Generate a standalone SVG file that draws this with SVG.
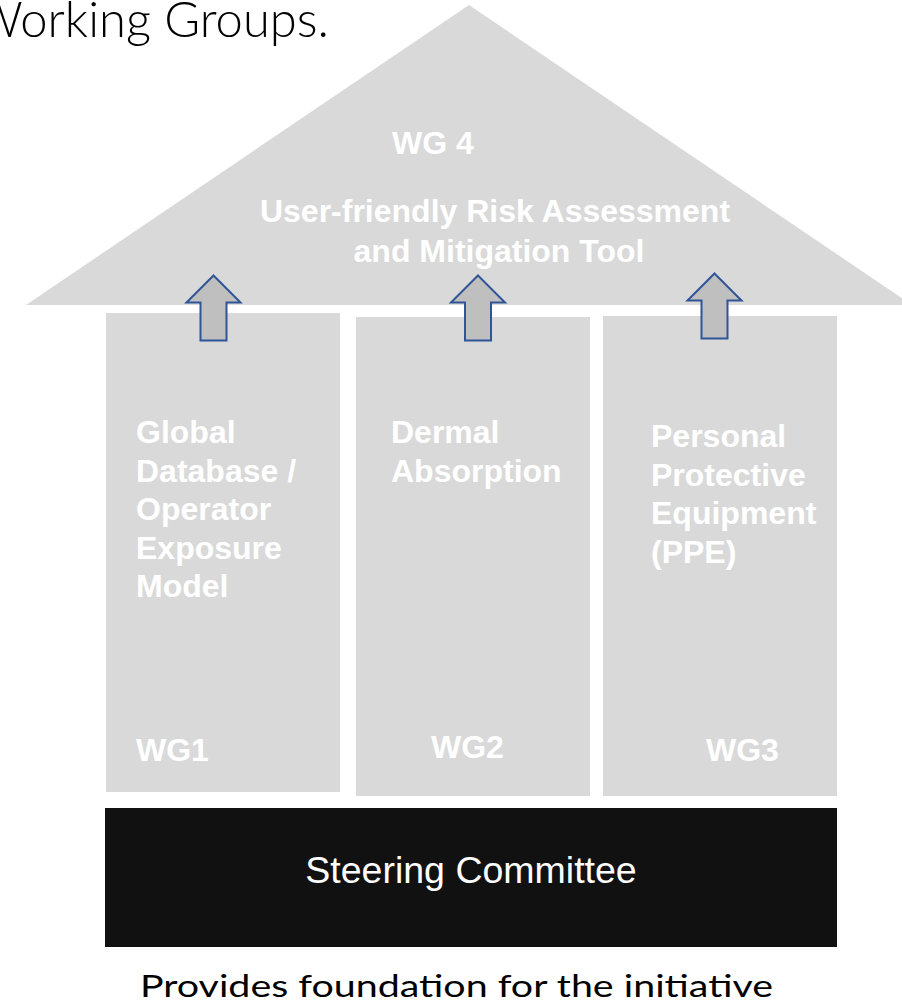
<svg xmlns="http://www.w3.org/2000/svg" width="902" height="1005" viewBox="0 0 902 1005">
<style>
.shape{fill:#d9d9d9}
.wt{fill:#ffffff;font-family:"Liberation Sans",Arial,sans-serif;font-weight:bold;font-size:32px}
.cap{fill:#000000;font-family:Lato,"Open Sans",sans-serif}
.arrow{fill:#bfbfbf;stroke:#2f5597;stroke-width:2;stroke-linejoin:miter}
</style>
<defs>
<path id="up" d="M0,0 L27,27 L13,27 L13,65 L-13,65 L-13,27 L-27,27 Z"/>
</defs>
<rect width="902" height="1005" fill="#ffffff"/>
<text class="cap" x="-27" y="37" font-size="49" font-weight="300" textLength="356" lengthAdjust="spacingAndGlyphs">Working Groups.</text>
<g id="wg4">
<polygon class="shape" points="26,305 469,5 912,305"/>
<text class="wt" x="392" y="154">WG 4</text>
<text class="wt" x="495" y="222" text-anchor="middle">User-friendly Risk Assessment</text>
<text class="wt" x="499" y="262" text-anchor="middle">and Mitigation Tool</text>
</g>
<g id="wg1">
<rect class="shape" x="106" y="313" width="234" height="479"/>
<text class="wt" x="136" y="443">Global</text>
<text class="wt" x="136" y="481.5">Database /</text>
<text class="wt" x="136" y="520">Operator</text>
<text class="wt" x="136" y="558.5">Exposure</text>
<text class="wt" x="136" y="597">Model</text>
<text class="wt" x="136" y="761">WG1</text>
</g>
<g id="wg2">
<rect class="shape" x="356" y="317" width="234" height="479"/>
<text class="wt" x="391" y="443">Dermal</text>
<text class="wt" x="391" y="481.5">Absorption</text>
<text class="wt" x="431" y="758">WG2</text>
</g>
<g id="wg3">
<rect class="shape" x="603" y="316" width="234" height="480"/>
<text class="wt" x="651" y="447">Personal</text>
<text class="wt" x="651" y="485.5">Protective</text>
<text class="wt" x="651" y="524">Equipment</text>
<text class="wt" x="651" y="562.5">(PPE)</text>
<text class="wt" x="706" y="761">WG3</text>
</g>
<g id="steering">
<rect x="105" y="808" width="732" height="139" fill="#111111"/>
<text x="471" y="883" text-anchor="middle" fill="#ffffff" font-family="'Liberation Sans',Arial,sans-serif" font-size="37.5">Steering Committee</text>
</g>
<g id="connectors">
<use href="#up" class="arrow" x="213.5" y="275.5"/>
<use href="#up" class="arrow" x="478" y="275.5"/>
<use href="#up" class="arrow" x="714.5" y="273.5"/>
</g>
<text class="cap" x="140" y="997" font-size="30" textLength="633" lengthAdjust="spacingAndGlyphs">Provides foundation for the initiative</text>
</svg>
